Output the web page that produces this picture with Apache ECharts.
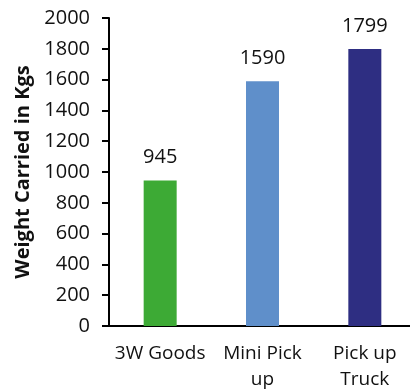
<!DOCTYPE html>
<html>
<head>
<meta charset="utf-8">
<script src="https://cdn.jsdelivr.net/npm/echarts@6/dist/echarts.min.js"></script>
<style>
  html, body { margin: 0; padding: 0; background: #fff; }
  #chart { width: 410px; height: 392px; }
</style>
</head>
<body>
<div id="chart"></div>
<script>
// categories and values
var categories = ['3W Goods', 'Mini Pick\nup', 'Pick up\nTruck'];
var weights = [945, 1590, 1799];
var barColors = ['#3DAA35', '#5F8FCA', '#2E2E82'];
var yTicks = { min: 0, max: 2000, step: 200 };

var myChart = echarts.init(document.getElementById('chart'));
var font = '"Open Sans", "Noto Sans", sans-serif';

var option = {
  animation: false,
  grid: { left: 109, right: -6, top: 18, bottom: 66, outerBoundsMode: 'none' },
  xAxis: {
    type: 'category',
    data: categories,
    axisLine: { lineStyle: { color: '#000', width: 2 } },
    axisTick: { show: false },
    axisLabel: {
      color: '#111', fontFamily: font, fontSize: 19,
      lineHeight: 26, margin: 15, interval: 0
    }
  },
  yAxis: {
    type: 'value',
    min: yTicks.min,
    max: yTicks.max,
    interval: yTicks.step,
    name: 'Weight Carried in Kgs',
    nameLocation: 'middle',
    nameGap: 74,
    nameTextStyle: { color: '#111', fontFamily: font, fontSize: 20, fontWeight: 'bold' },
    axisLine: { show: true, lineStyle: { color: '#000', width: 2 } },
    axisTick: { show: true, length: 7, lineStyle: { color: '#000', width: 2 } },
    axisLabel: {
      color: '#111', fontFamily: font, fontSize: 20, margin: 19,
      formatter: function (v) { return String(v); }
    },
    splitLine: { show: false }
  },
  series: [{
    type: 'bar',
    barWidth: 33,
    data: weights.map(function (v, i) {
      return { value: v, itemStyle: { color: barColors[i] } };
    }),
    label: {
      show: true, position: 'top', distance: 13,
      color: '#111', fontFamily: font, fontSize: 20
    }
  }]
};

myChart.setOption(option);
</script>
</body>
</html>
